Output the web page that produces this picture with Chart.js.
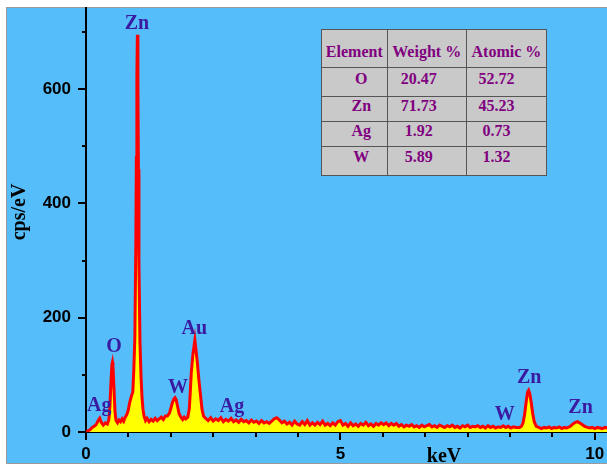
<!DOCTYPE html>
<html>
<head>
<meta charset="utf-8">
<script src="https://cdn.jsdelivr.net/npm/chart.js@4"></script>
<style>
  body { margin: 0; background: #fff; }
  #wrap { position: relative; width: 607px; height: 468px; }
  #edsTable {
    position: absolute; left: 321px; top: 29px; width: 226px;
    border-collapse: collapse; background: #c9c9c9;
    font: bold 16px "Liberation Serif", "Times New Roman", serif;
    line-height: 18px; color: #800080;
  }
  #edsTable td { border: 1px solid #555; padding: 0; vertical-align: top; text-align: center; white-space: nowrap; }
  #edsTable tr.head td { height: 38px; padding-top: 13px; box-sizing: border-box; }
  #edsTable td.el { padding-left: 14px; }
  #edsTable td.wt { padding-right: 16px; }
  #edsTable td.at { padding-right: 20px; }
</style>
</head>
<body>
<div id="wrap">
  <canvas id="edsChart" width="607" height="468"></canvas>
  <table id="edsTable"></table>
</div>
<script>
// EDS spectrum, energy in keV and intensity in cps/eV
const energyKeV = [
    0, 0.04, 0.08, 0.12, 0.16, 0.20, 0.24, 0.27, 0.30, 0.34, 0.38, 0.42,
    0.45, 0.47, 0.49, 0.51, 0.52, 0.53, 0.55, 0.57, 0.59,
    0.62, 0.65, 0.68, 0.71, 0.74, 0.77,
    0.80, 0.83, 0.86, 0.89, 0.92, 0.94, 0.96, 0.98, 0.99, 1.00, 1.01, 1.02, 1.03, 1.04, 1.06, 1.08, 1.10, 1.12, 1.14,
    1.17, 1.20, 1.24, 1.28, 1.32, 1.36, 1.40, 1.44, 1.48, 1.52, 1.56,
    1.60, 1.64, 1.67, 1.70, 1.73, 1.75, 1.77, 1.80, 1.83, 1.87,
    1.90, 1.93, 1.96,
    2.00, 2.03, 2.05, 2.07, 2.10, 2.12, 2.14, 2.16, 2.19, 2.22, 2.25, 2.28, 2.31,
    2.35, 2.40, 2.45, 2.50, 2.55, 2.60, 2.65, 2.70, 2.75, 2.80,
    2.85, 2.90, 2.95, 3.00, 3.05, 3.10, 3.15, 3.20, 3.25, 3.30,
    3.35, 3.40, 3.45, 3.50, 3.55, 3.60, 3.65, 3.70, 3.75, 3.80,
    3.85, 3.90, 3.95,
    4.00, 4.05, 4.10, 4.15, 4.20, 4.25, 4.30, 4.35, 4.40, 4.45,
    4.50, 4.55, 4.60, 4.65, 4.70, 4.75, 4.80, 4.85, 4.90, 4.95,
    5.00, 5.05, 5.10, 5.15, 5.20, 5.25, 5.30, 5.35, 5.40, 5.45,
    5.50, 5.55, 5.60, 5.65, 5.70, 5.75, 5.80, 5.85, 5.90, 5.95,
    6.00, 6.05, 6.10, 6.15, 6.20, 6.25, 6.30, 6.35, 6.40, 6.45,
    6.50, 6.55, 6.60, 6.65, 6.70, 6.75, 6.80, 6.85, 6.90, 6.95,
    7.00, 7.05, 7.10, 7.15, 7.20, 7.25, 7.30, 7.35, 7.40, 7.45,
    7.50, 7.55, 7.60, 7.65, 7.70, 7.75, 7.80, 7.85, 7.90, 7.95,
    8.00, 8.05, 8.10, 8.15, 8.20, 8.25, 8.30, 8.35, 8.40, 8.45,
    8.52, 8.56, 8.59, 8.62, 8.65, 8.68, 8.70, 8.72, 8.75, 8.78, 8.81, 8.85,
    8.90, 8.95, 9.00, 9.05, 9.10, 9.15, 9.20, 9.25, 9.30, 9.35, 9.40,
    9.45, 9.52, 9.57, 9.62, 9.66, 9.70, 9.75, 9.80, 9.86,
    9.90, 9.95, 10.00, 10.05, 10.10, 10.15, 10.20, 10.25
];
const countsCps = [
    0, 2, 4, 8, 10, 13, 20, 24, 17, 12, 16, 14,
    22, 45, 85, 118, 122, 115, 75, 35, 20,
    16, 21, 18, 23, 19, 26,
    30, 38, 52, 62, 70, 110, 165, 330, 480, 620, 695, 610, 460, 300, 160, 100, 62, 40, 28,
    20, 24, 18, 22, 19, 24, 20, 23, 26, 22, 28,
    28, 33, 42, 52, 58, 60, 57, 45, 32, 25,
    22, 26, 23,
    26, 40, 70, 105, 135, 148, 161, 145, 120, 90, 65, 40, 28,
    24, 20, 25, 19, 23, 20, 25, 18, 22, 19,
    24, 18, 21, 17, 22, 18, 20, 16, 21, 17,
    19, 15, 20, 16, 18, 15, 19, 23, 25, 21,
    16, 19, 14,
    17, 12, 19, 14, 12, 18, 13, 20, 12, 16,
    12, 17, 13, 19, 12, 15, 11, 16, 12, 18,
    20, 12, 15, 10, 16, 11, 14, 10, 15, 12,
    17, 11, 14, 10, 15, 12, 16, 13, 16, 11,
    15, 12, 15, 10, 13, 9, 12, 10, 13, 9,
    11, 8, 12, 9, 11, 13, 9, 11, 8, 12,
    10, 8, 11, 9, 12, 8, 10, 7, 11, 9,
    12, 8, 10, 9, 11, 8, 10, 7, 11, 8,
    10, 7, 9, 8, 11, 8, 10, 7, 9, 8,
    8, 10, 16, 30, 52, 70, 73, 68, 52, 32, 18, 10,
    8, 6, 8, 7, 9, 6, 8, 7, 9, 6, 8,
    7, 10, 14, 17, 18, 16, 13, 10, 8,
    7, 8, 6, 8, 7, 6, 8, 7
];

// axis ticks
const xTickValues = [0, 0.8333, 1.6667, 2.5, 3.3333, 4.1667, 5, 5.8333, 6.6667, 7.5, 8.3333, 9.1667, 10];
const xTickLabels = ['0', '5', '10'];
const yTickValues = [0, 100, 200, 300, 400, 500, 600, 700];
const yTickLabels = ['0', '200', '400', '600'];

// element markers above the peaks
const peakNames = ['Zn', 'O', 'Ag', 'W', 'Au', 'Ag', 'W', 'Zn', 'Zn'];
const peakKeV = [1.00, 0.55, 0.26, 1.81, 2.13, 2.87, 8.23, 8.71, 9.72];
const peakCps = [717, 152, 49, 80, 183, 47, 33, 98, 45];

// quantification table
const tableHeader = ['Element', 'Weight %', 'Atomic %'];
const elements = ['O', 'Zn', 'Ag', 'W'];
const weightPct = ['20.47', '71.73', '1.92', '5.89'];
const atomicPct = ['52.72', '45.23', '0.73', '1.32'];
const rowHeights = [29, 25, 25, 29];
const rowPadTop = [2, 0, 0, 1];

const table = document.getElementById('edsTable');
let html = '<tr class="head">' + tableHeader.map(h => `<td>${h}</td>`).join('') + '</tr>';
elements.forEach((el, i) => {
    const st = `style="height:${rowHeights[i]}px;padding-top:${rowPadTop[i]}px;box-sizing:border-box"`;
    html += `<tr><td class="el" ${st}>${el}</td><td class="wt" ${st}>${weightPct[i]}</td><td class="at" ${st}>${atomicPct[i]}</td></tr>`;
});
table.innerHTML = html;

const isMajorX = v => xTickLabels.includes(String(Math.round(v * 1000) / 1000));
const isMajorY = v => yTickLabels.includes(String(v));

const decorations = {
    id: 'decorations',
    beforeDraw(chart) {
        const c = chart.ctx;
        c.save();
        c.fillStyle = '#ffffff';
        c.fillRect(0, 0, chart.width, chart.height);
        c.fillStyle = '#55bdfa';
        c.fillRect(7, 8, chart.width - 7, 455);
        c.strokeStyle = '#9a9a9a';
        c.lineWidth = 1;
        c.strokeRect(6.5, 7.5, chart.width, 456);
        c.restore();
    },
    afterDraw(chart) {
        const c = chart.ctx;
        const xs = chart.scales.x, ys = chart.scales.y;
        const area = chart.chartArea;
        c.save();
        c.strokeStyle = '#000';
        c.lineWidth = 2;
        c.beginPath();
        yTickValues.forEach(v => {
            const py = Math.round(ys.getPixelForValue(v));
            const len = isMajorY(v) ? 8 : 4;
            c.moveTo(area.left - len, py);
            c.lineTo(area.left, py);
        });
        xTickValues.forEach(v => {
            const px = Math.round(xs.getPixelForValue(v));
            const len = isMajorX(v) ? 8 : 5;
            c.moveTo(px, area.bottom);
            c.lineTo(px, area.bottom + len);
        });
        c.stroke();

        // peak labels
        c.fillStyle = '#3a1aa0';
        c.font = 'bold 20px "Liberation Serif", "Times New Roman", serif';
        c.textAlign = 'center';
        c.textBaseline = 'alphabetic';
        peakNames.forEach((name, i) => {
            c.fillText(name, xs.getPixelForValue(peakKeV[i]), ys.getPixelForValue(peakCps[i]) + 7);
        });

        // axis titles
        c.fillStyle = '#000';
        c.fillText('keV', 444, 462);
        c.translate(25, 212);
        c.rotate(-Math.PI / 2);
        c.fillText('cps/eV', 0, 0);
        c.restore();
    }
};

const tickFont = { family: '"Liberation Sans", Arial, sans-serif', size: 17, weight: 'bold' };

const ctx = document.getElementById('edsChart').getContext('2d');
const edsChart = new Chart(ctx, {
    type: 'line',
    data: {
        datasets: [{
            data: energyKeV.map((e, i) => ({ x: e, y: countsCps[i] })),
            borderColor: '#ff0000',
            backgroundColor: '#ffff00',
            borderWidth: 3,
            fill: 'origin',
            pointRadius: 0,
            tension: 0
        }]
    },
    options: {
        responsive: false,
        animation: false,
        layout: { padding: { left: 7, top: 8, right: 0, bottom: 0 } },
        plugins: {
            legend: { display: false },
            tooltip: { enabled: false }
        },
        scales: {
            x: {
                type: 'linear',
                min: 0,
                max: 10.24,
                afterBuildTicks: s => { s.ticks = xTickValues.map(v => ({ value: v })); },
                afterFit: s => { s.height = 36; s.paddingLeft = 0; s.paddingRight = 0; },
                grid: { display: false, drawTicks: false },
                border: { display: true, color: '#000', width: 2 },
                ticks: {
                    autoSkip: false,
                    maxRotation: 0,
                    padding: 12,
                    color: '#000',
                    font: tickFont,
                    callback: v => isMajorX(v) ? String(Math.round(v)) : ''
                }
            },
            y: {
                min: 0,
                max: 742,
                afterBuildTicks: s => { s.ticks = yTickValues.map(v => ({ value: v })); },
                afterFit: s => { s.width = 79; s.paddingTop = 0; s.paddingBottom = 0; },
                grid: { display: false, drawTicks: false },
                border: { display: true, color: '#000', width: 2 },
                ticks: {
                    padding: 15,
                    color: '#000',
                    font: tickFont,
                    callback: v => isMajorY(v) ? String(v) : ''
                }
            }
        }
    },
    plugins: [decorations]
});
</script>
</body>
</html>
